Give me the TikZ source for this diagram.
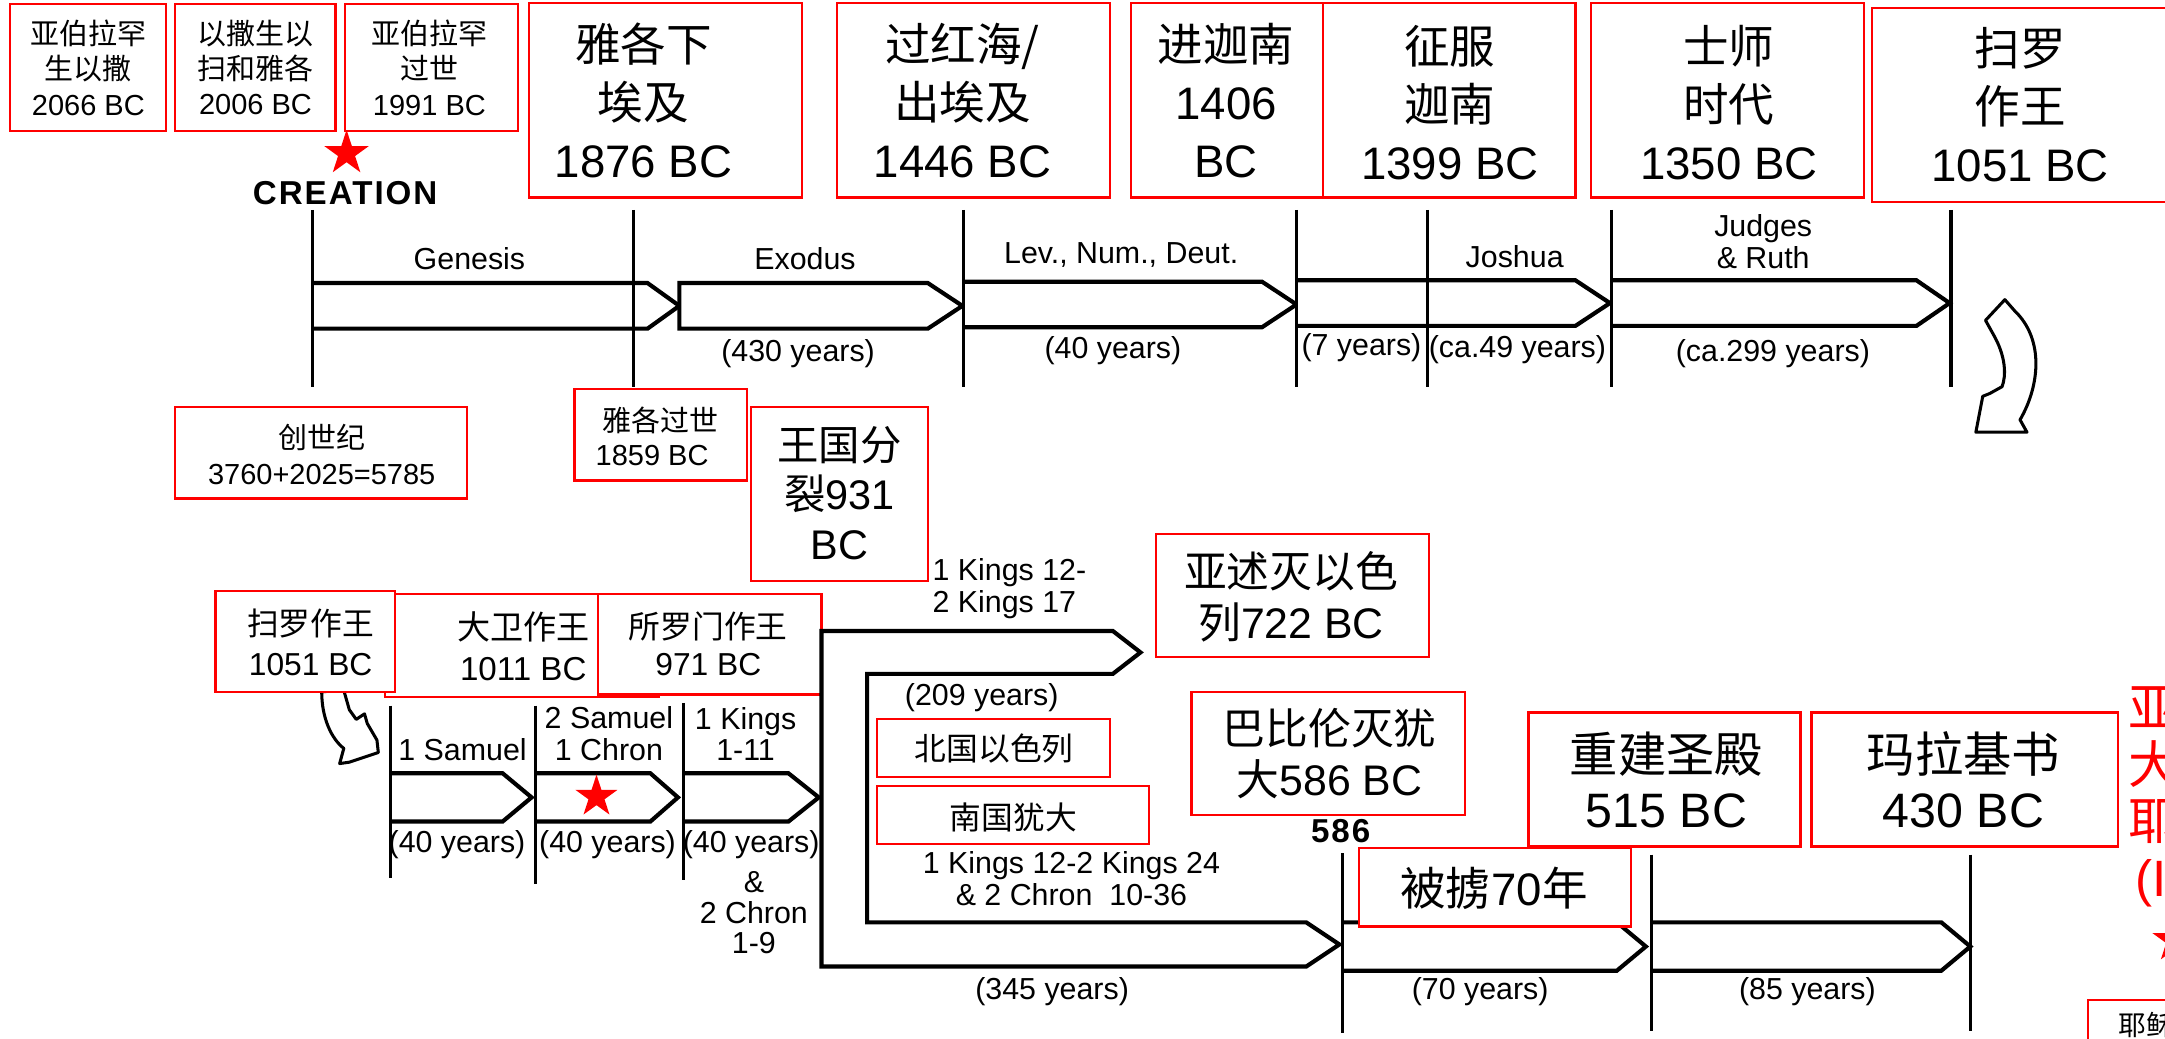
\documentclass[tikz,border=0pt]{standalone}
\usepackage{fontspec}
\setmainfont{Liberation Sans}
\newfontfamily\cjk{Noto Sans CJK SC}
\newfontfamily\pixf{Liberation Sans}[LetterSpace=6]
\usetikzlibrary{shapes.geometric,fit}
\newcommand\zh[1]{{\cjk #1}}
\newcommand\fs[2]{\fontsize{#1}{#2}\selectfont}
\begin{document}
\begin{tikzpicture}[x=0.5pt,y=-0.5pt,
  rbox/.style={draw=red, line width=0.8pt, fill=white, inner sep=0pt, outer sep=0pt},
  txt/.style={align=center, inner sep=0pt},
  band/.style={draw=black, line width=1.5pt, fill=white, line join=miter},
  tick/.style={draw=black, line width=1.1pt},
  lab/.style={inner sep=0pt, align=center, font=\fs{11}{11.5}},
  redstar/.style={star, star points=5, star point ratio=2.618, fill=red, draw=none, inner sep=0pt},
  curv/.style={draw=black, line width=1.1pt, fill=white, line join=round}
]
\useasboundingbox (0,0) rectangle (1568,752);
\clip (0,0) rectangle (1568,752);
\fill[white] (0,0) rectangle (1568,752);

% ---------------- top timeline ----------------
\draw[band] (226,205) -- (469,205) -- (492,221.5) -- (469,238) -- (226,238);
\draw[band] (492,205) -- (672,205) -- (697,221.5) -- (672,238) -- (492,238) -- cycle;
\draw[band] (698,204) -- (914,204) -- (939,220.5) -- (914,237) -- (698,237);
\draw[band] (939,203) -- (1141,203) -- (1166,219.5) -- (1141,236) -- (939,236);
\draw[band] (1167,203) -- (1388,203) -- (1412,219.5) -- (1388,236) -- (1167,236);
\foreach \x in {226,459,698,939,1034,1167,1413}
  \draw[tick] (\x,152) -- (\x,280);

\node[lab] (lg) at (340,187) {Genesis};
\node[lab] (le) at (583,187) {Exodus};
\node[lab] (ll) at (812,185) {Lev., Num., Deut.};
\node[lab] (lj) at (1097,186) {Joshua};
\node[lab] (ljr) at (1277,175) {Judges\\\& Ruth};
\node[lab] (y1) at (578,256) {(430 years)};
\node[lab] (y2) at (806,254) {(40 years)};
\node[lab] (y3) at (986,252) {(7 years)};
\node[lab] (y4) at (1099,253) {(ca.49 years)};
\node[lab] (y5) at (1284,256) {(ca.299 years)};

\node[font=\pixf\bfseries\fs{12}{13}, inner sep=0pt] (creation) at (250,140) {CREATION};
\node[redstar, minimum size=17pt] (s1) at (251,111) {};

\draw[curv] (1452,217) -- (1438,232) -- (1443,241) .. controls (1453,258) and (1453,272) .. (1450,280)
  -- (1441,285) -- (1436,287) -- (1431,313) -- (1468,313) -- (1463,304)
  .. controls (1477,280) and (1481,246) .. (1459,225) -- cycle;

% ---------------- top boxes ----------------
\node[rbox, fit={(7,3)(120,95)}] (b1) {};
\node[txt, font=\fs{10.5}{12.75}] (t1) at (64,49) {\zh{亚伯拉罕}\\\zh{生以撒}\\2066 BC};
\node[rbox, fit={(127,3)(243,95)}] (b2) {};
\node[txt, font=\fs{10.5}{12.75}] (t2) at (185,49) {\zh{以撒生以}\\\zh{扫和雅各}\\2006 BC};
\node[rbox, fit={(250,3)(375,95)}] (b3) {};
\node[txt, font=\fs{10.5}{12.75}] (t3) at (311,49) {\zh{亚伯拉罕}\\\zh{过世}\\1991 BC};

\node[rbox, fit={(383,2)(581,143)}] (b4) {};
\node[txt, font=\fs{16.5}{21}] (t4) at (466,73) {\zh{雅各下}\\\zh{埃及}\\1876 BC};
\node[rbox, fit={(606,2)(804,143)}] (b5) {};
\node[txt, font=\fs{16.5}{21}] (t5) at (697,73) {\zh{过红海/}\\\zh{出埃及}\\1446 BC};
\node[rbox, fit={(819,2)(958,143)}] (b6) {};
\node[txt, font=\fs{16.5}{21}] (t6) at (888,73) {\zh{进迦南}\\1406\\BC};
\node[rbox, fit={(958,2)(1141,143)}] (b7) {};
\node[txt, font=\fs{16.5}{21}] (t7) at (1050,74) {\zh{征服}\\\zh{迦南}\\1399 BC};
\node[rbox, fit={(1152,2)(1350,143)}] (b8) {};
\node[txt, font=\fs{16.5}{21}] (t8) at (1252,74) {\zh{士师}\\\zh{时代}\\1350 BC};
\node[rbox, fit={(1356,6)(1620,146)}] (b9) {};
\node[txt, font=\fs{16.5}{21}] (t9) at (1463,76) {\zh{扫罗}\\\zh{作王}\\1051 BC};

\node[rbox, fit={(127,295)(338,361)}] (b10) {};
\node[txt, font=\fs{10.5}{13}] (t10) at (233,329) {\zh{创世纪}\\3760+2025=5785};
\node[rbox, fit={(416,282)(541,348)}] (b11) {};
\node[inner sep=0pt, align=left, anchor=west, font=\fs{10.5}{12}] (t11) at (431,316) {\hspace*{2.5pt}\zh{雅各过世}\\1859 BC};
\node[rbox, fit={(544,295)(672,421)}] (b12) {};
\node[txt, font=\fs{15}{18}] (t12) at (608,357) {\zh{王国分}\\\zh{裂}931\\BC};

% ---------------- bottom left ----------------
\draw[curv] (233,501) .. controls (233,520) and (240,535) .. (249,542) -- (246,553) -- (253,552)
  -- (274,545) -- (273,536) -- (266,524) -- (264,517) -- (258,521) -- (253,514) -- (249,500) -- cycle;

\node[rbox, fit={(279,430)(477,505)}] (b14) {};
\node[txt, font=\fs{12}{15}] (t14) at (379,468) {\zh{大卫作王}\\1011 BC};
\node[rbox, fit={(433,430)(595,503)}] (b15) {};
\node[txt, font=\fs{11.5}{13.5}] (t15) at (513,466) {\zh{所罗门作王}\\971 BC};
\node[rbox, fit={(156,428)(286,501)}] (b13) {};
\node[txt, font=\fs{11.5}{14.5}] (t13) at (225,465) {\zh{扫罗作王}\\1051 BC};

\draw[band] (283,560) -- (364,560) -- (385,577.5) -- (364,595) -- (283,595);
\draw[band] (388,560) -- (471,560) -- (491,577.5) -- (471,595) -- (388,595);
\draw[band] (495,560) -- (571,560) -- (593,577.5) -- (571,595) -- (495,595);
\draw[tick] (283,511) -- (283,636);
\draw[tick] (388,511) -- (388,640);
\draw[tick] (495,509) -- (495,637);
\node[redstar, minimum size=16pt] (s2) at (432,577) {};

\node[lab] (l1s) at (335,543) {1 Samuel};
\node[lab, font=\fs{11}{11.5}] (l2s) at (441,531.5) {2 Samuel\\1 Chron};
\node[lab, font=\fs{11}{11.5}] (l1k) at (540,531.5) {1 Kings\\1-11};
\node[lab] (y6) at (331,612) {(40 years)};
\node[lab] (y7) at (440,612) {(40 years)};
\node[lab] (y8) at (544,612) {(40 years)};
\node[lab, font=\fs{11}{11}] (l2c) at (546,661) {\&\\2 Chron\\1-9};

% ---------------- divided kingdom ----------------
\draw[band] (595,457) -- (806,457) -- (826,472.5) -- (806,488) -- (628,488) -- (628,668)
  -- (946,668) -- (970,684) -- (946,700) -- (595,700) -- cycle;
\draw[tick] (595,456) -- (595,700);

\node[lab, align=left, anchor=west] (lk12) at (675,426.5) {1 Kings 12-\\2 Kings 17};
\node[lab] (y9) at (711,505) {(209 years)};
\node[rbox, fit={(635,521)(804,563)}] (b16) {};
\node[txt, font=\fs{11.5}{13}] (t16) at (720,542) {\zh{北国以色列}};
\node[rbox, fit={(635,569)(832,611)}] (b17) {};
\node[txt, font=\fs{11.5}{13}] (t17) at (734,592) {\zh{南国犹大}};
\node[lab] (lk24) at (776,636.5) {1 Kings 12-2 Kings 24\\\& 2 Chron\ \ 10-36};
\node[lab] (y10) at (762,718) {(345 years)};

% ---------------- exile and return ----------------
\draw[band] (972,668) -- (1171,668) -- (1192,685.5) -- (1171,703) -- (972,703);
\draw[band] (1196,668) -- (1406,668) -- (1427,685.5) -- (1406,703) -- (1196,703);
\draw[tick] (972,618) -- (972,748);
\draw[tick] (1196,619) -- (1196,747);
\draw[tick] (1427,619) -- (1427,747);
\node[font=\pixf\bfseries\fs{12}{13}, inner sep=0pt] (y586) at (971,602) {586};
\node[lab] (y11) at (1072,718) {(70 years)};
\node[lab] (y12) at (1309,718) {(85 years)};

\node[rbox, fit={(837,387)(1035,476)}] (b18) {};
\node[txt, font=\fs{15.5}{18.5}] (t18) at (935,432) {\zh{亚述灭以色}\\\zh{列}722 BC};
\node[rbox, fit={(863,501)(1061,590)}] (b19) {};
\node[txt, font=\fs{15.5}{18.5}] (t19) at (963,546) {\zh{巴比伦灭犹}\\\zh{大}586 BC};
\node[rbox, fit={(984,614)(1181,671)}] (b20) {};
\node[txt, font=\fs{16.5}{18}] (t20) at (1082,643) {\zh{被掳}70\zh{年}};
\node[rbox, fit={(1107,516)(1304,613)}] (b21) {};
\node[txt, font=\fs{17.5}{20}] (t21) at (1207,565) {\zh{重建圣殿}\\515 BC};
\node[rbox, fit={(1312,516)(1534,613)}] (b22) {};
\node[txt, font=\fs{17.5}{20}] (t22) at (1422,565) {\zh{玛拉基书}\\430 BC};

% ---------------- right edge (cut off) ----------------
\node[inner sep=0pt, align=left, anchor=west, text=red, font=\fs{18.5}{20.5}] (t23) at (1541,577)
  {\zh{亚}\\\zh{大}\\\zh{耶}\\\hspace*{2.5pt}(I};
\node[redstar, minimum size=17pt] (s3) at (1575,681) {};
\node[rbox, fit={(1512,724)(1620,790)}] (b24) {};
\node[inner sep=0pt, anchor=west, font=\fs{10}{12}] (t24) at (1534,742) {\zh{耶稣}};
\end{tikzpicture}
\end{document}
